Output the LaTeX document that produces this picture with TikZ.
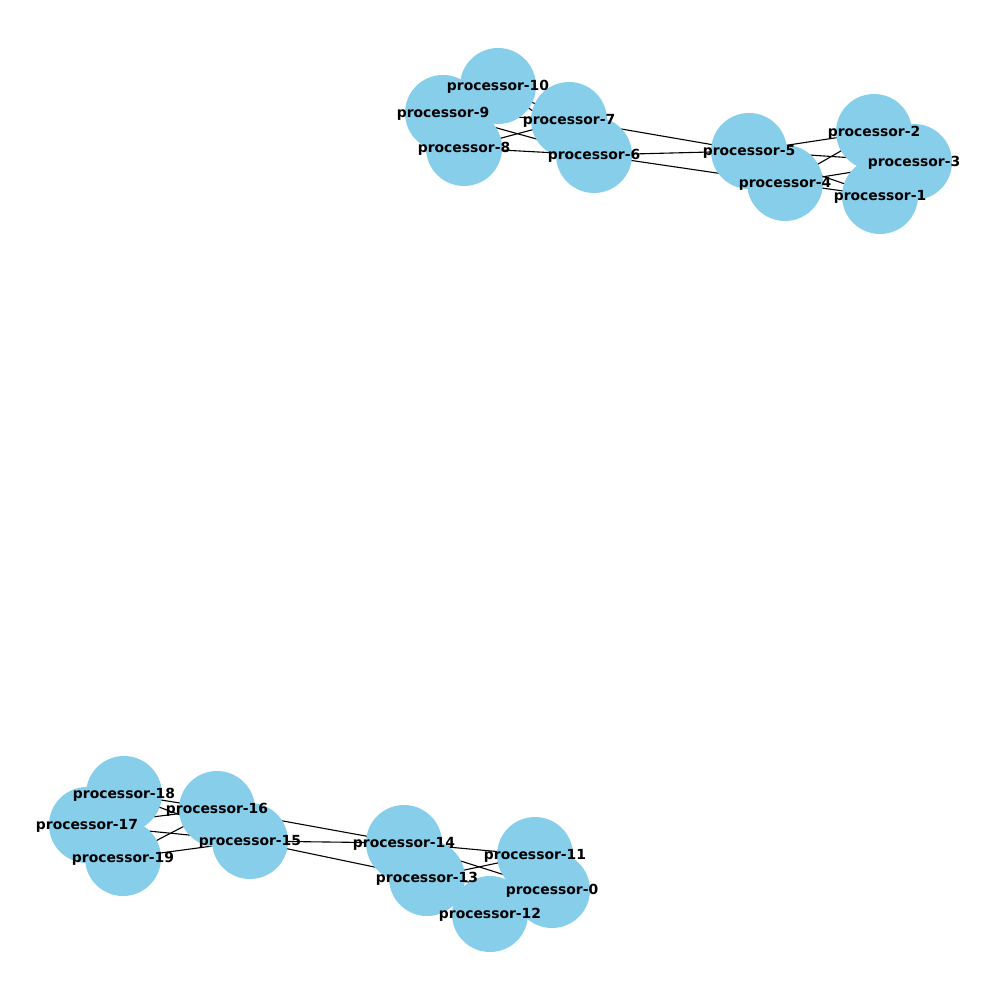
\documentclass[tikz,border=0pt]{standalone}
\usepackage{fontspec}
\setmainfont{DejaVu Sans}
\pgfdeclarelayer{bg}
\pgfsetlayers{bg,main}
\definecolor{skyblue}{HTML}{87CEEB}
\tikzset{
  proc/.style={circle, fill=skyblue, draw=none, minimum size=76pt, inner sep=0pt},
  lbl/.style={font=\fontsize{13.9}{16}\selectfont\bfseries, inner sep=0pt, text=black, yshift=-1.2pt},
  edge/.style={draw=black, line width=1.1pt}
}
\begin{document}
\begin{tikzpicture}[x=1pt, y=-1pt]
\useasboundingbox (0,0) rectangle (1000,1000);
% nodes
\node[proc] (p10) at (498,86) {};
\node[proc] (p9) at (443,113) {};
\node[proc] (p8) at (464,148) {};
\node[proc] (p7) at (569,120) {};
\node[proc] (p6) at (594,155) {};
\node[proc] (p5) at (749,151) {};
\node[proc] (p4) at (785,183) {};
\node[proc] (p2) at (874,132) {};
\node[proc] (p3) at (914,162) {};
\node[proc] (p1) at (880,196) {};
\node[proc] (p18) at (124,794) {};
\node[proc] (p17) at (87,825) {};
\node[proc] (p19) at (123,858) {};
\node[proc] (p16) at (217,809) {};
\node[proc] (p15) at (250,841) {};
\node[proc] (p14) at (404,843) {};
\node[proc] (p13) at (427,878) {};
\node[proc] (p12) at (490,914) {};
\node[proc] (p11) at (535,855) {};
\node[proc] (p0) at (552,890) {};
% edges
\begin{pgfonlayer}{bg}
\foreach \a/\b in {p1/p4,p1/p5,p2/p4,p2/p5,p3/p4,p3/p5,p4/p6,p5/p6,p5/p7,
  p6/p8,p6/p9,p6/p10,p7/p8,p7/p9,p7/p10,
  p17/p15,p17/p16,p18/p15,p18/p16,p19/p15,p19/p16,p15/p13,p15/p14,p16/p14,
  p13/p0,p13/p11,p13/p12,p14/p0,p14/p11,p14/p12}
  \draw[edge] (\a.center) -- (\b.center);
\end{pgfonlayer}
% labels
\foreach \n/\t in {p0/0,p1/1,p2/2,p3/3,p4/4,p5/5,p6/6,p7/7,p8/8,p9/9,p10/10,
  p11/11,p12/12,p13/13,p14/14,p15/15,p16/16,p17/17,p18/18,p19/19}
  \node[lbl] (l\n) at (\n.center) {processor-\t};
\end{tikzpicture}
\end{document}
